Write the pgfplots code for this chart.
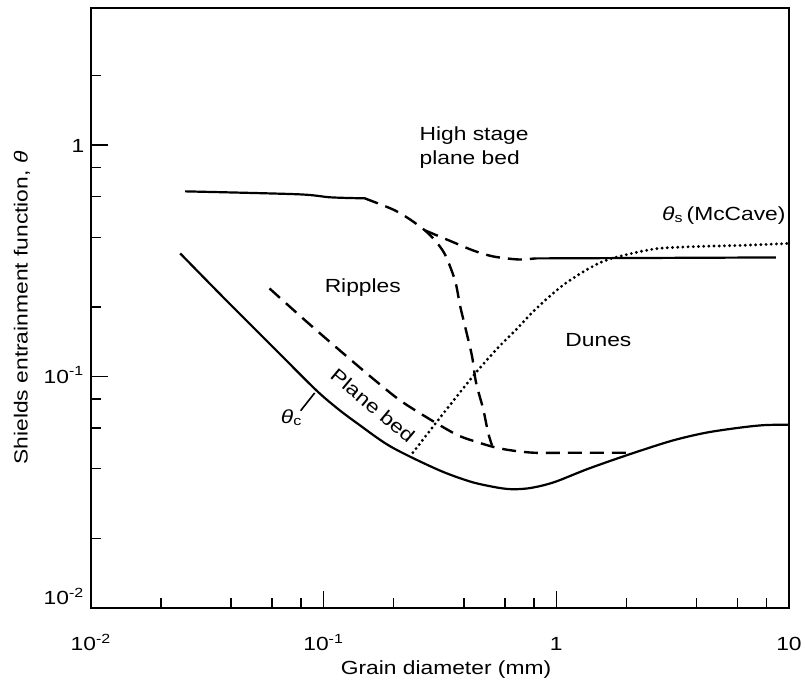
\documentclass[border=0pt]{standalone}
\usepackage{fontspec}
\setmainfont{Liberation Sans}[FakeStretch=1.2]
\usepackage{pgfplots}
\pgfplotsset{compat=1.18}

\begin{document}
\fontsize{9.5}{11.4}\selectfont
\begin{tikzpicture}
\begin{axis}[
  scale only axis, width=349pt, height=300pt,
  xmode=log, ymode=log,
  xmin=0.01, xmax=10, ymin=0.01, ymax=3.92,
  xtick={0.01,0.1,1,10},
  xticklabels={10\textsuperscript{-2},10\textsuperscript{-1},1,10},
  ytick={0.01,0.1,1},
  yticklabels={\raisebox{5pt}{10\textsuperscript{-2}},10\textsuperscript{-1},1},
  minor xtick={0.02,0.04,0.06,0.08,0.2,0.4,0.6,0.8,2,4,6,8},
  minor ytick={0.02,0.04,0.06,0.08,0.2,0.4,0.6,0.8,2},
  xtick pos=bottom, ytick pos=left, tick align=inside,
  major tick length=8.5pt, minor tick length=5pt,
  tick style={black, line width=0.8pt},
  axis line style={line width=1pt},
  xticklabel style={anchor=base, yshift=-21.5pt},
  yticklabel style={anchor=base east, yshift=-3.5pt},
  xlabel={Grain diameter (mm)},
  ylabel={Shields entrainment function, \textit{θ}},
  xlabel style={at={(axis description cs:0.5,0)}, anchor=center, yshift=-31pt, xshift=3pt},
  ylabel style={at={([xshift=-34.5pt]axis description cs:0,0.5)}, anchor=center},
]
% theta_c (solid)
\addplot[black, line width=1.1pt, smooth] coordinates {
(0.02419,0.3406) (0.03857,0.2112) (0.06147,0.1322) (0.0924,0.0878) (0.1149,0.0727)
(0.1401,0.0626) (0.1944,0.0498) (0.3100,0.0396) (0.4302,0.0351) (0.5623,0.0331)
(0.6527,0.0326) (0.7573,0.0329) (0.879,0.0339) (1.020,0.0355) (1.374,0.0400)
(2.043,0.0460) (3.131,0.0528) (4.387,0.0572) (6.087,0.0601) (7.80,0.0617) (10,0.0620)};
% upper solid left
\addplot[black, line width=1.1pt, smooth] coordinates {
(0.0254,0.632) (0.0772,0.614) (0.1072,0.5955) (0.1502,0.5896)};
% upper solid right
\addplot[black, line width=1.1pt] coordinates {
(0.8117,0.3243) (8.79,0.3274)};
% dashed A
\addplot[black, line width=1.2pt, dash pattern=on 7pt off 4pt, smooth] coordinates {
(0.1502,0.5896) (0.1709,0.561) (0.2023,0.5232) (0.2348,0.4783) (0.2724,0.4286)
(0.3009,0.3879) (0.3322,0.3374) (0.367,0.2603) (0.3857,0.2029) (0.4093,0.1581)
(0.4345,0.1221) (0.4519,0.0942) (0.4845,0.0727) (0.5093,0.0572) (0.5298,0.0503)};
% dashed B
\addplot[black, line width=1.2pt, dash pattern=on 7pt off 4pt, smooth] coordinates {
(0.2724,0.4286) (0.3457,0.3879) (0.4388,0.3511) (0.5351,0.3307) (0.6861,0.3209) (0.8117,0.3243)};
% dashed C
\addplot[black, line width=1.2pt, dash pattern=on 7pt off 4pt, smooth] coordinates {
(0.05852,0.2404) (0.0853,0.1713) (0.1231,0.1245) (0.1709,0.0942) (0.2234,0.0764)
(0.3597,0.0572) (0.4519,0.0523) (0.5793,0.0488) (0.7962,0.0469) (1.244,0.0469) (2.105,0.0469)};
% dotted theta_s
\addplot[black, line width=1.6pt, line cap=round, dash pattern=on 0pt off 2.6pt, smooth] coordinates {
(0.2418,0.0469) (0.3290,0.0699) (0.4476,0.1030) (0.5623,0.1335) (0.6658,0.1581)
(0.7802,0.1874) (0.9237,0.2198) (1.093,0.2527) (1.334,0.2876) (1.626,0.3178)
(2.105,0.3406) (2.753,0.3581) (4.093,0.3653) (6.087,0.3690) (10,0.3764)};
% labels
\node[anchor=west, align=left, font=\fontsize{9.5}{12}\selectfont] at (axis cs:0.2418,0.98) {High stage\\plane bed};
\node at (axis cs:0.1473,0.2428) {Ripples};
\node at (axis cs:1.517,0.1432) {Dunes};
\node[anchor=base] at (axis cs:5.247,0.4735) {\textit{θ}\textsubscript{s}\,(McCave)};
\node[rotate=-40] at (axis cs:0.1627,0.0749) {Plane bed};
\node[anchor=base west, inner sep=0pt] at (axis cs:0.0653,0.0626) {\textit{θ}\textsubscript{c}};
\draw[line width=0.8pt] (axis cs:0.0796,0.0712) -- (axis cs:0.0915,0.0850);
\end{axis}
\pgfresetboundingbox
\path[use as bounding box] ([shift={(-45.5pt,-39.5pt)}]current axis.south west) rectangle ([shift={(8pt,4pt)}]current axis.north east);
\end{tikzpicture}
\end{document}
